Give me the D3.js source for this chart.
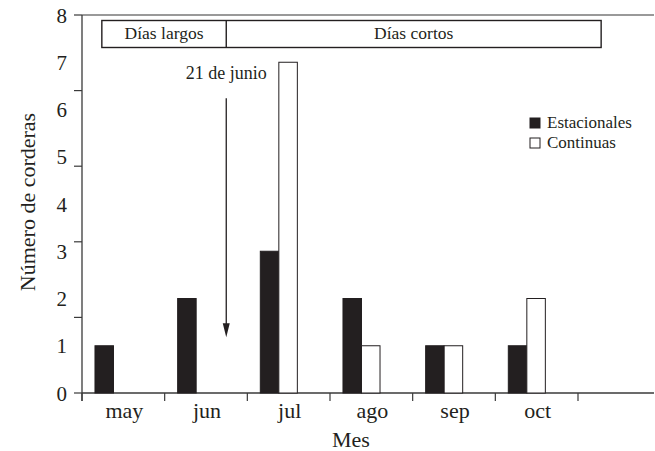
<!DOCTYPE html>
<html><head><meta charset="utf-8">
<script src="https://cdn.jsdelivr.net/npm/d3@7"></script>
<style>body{margin:0;background:#fff}svg{display:block}text{font-family:"Liberation Serif","Times New Roman",serif;fill:#231f20}</style>
</head><body><svg id="c" width="655" height="451"></svg>
<script>
const months = ["may","jun","jul","ago","sep","oct"];
const series = ["Estacionales","Continuas"];
const estacionales = [1,2,3,2,1,1];
const continuas = [0,0,7,1,1,2];
const yLabels = [0,1,2,3,4,5,6,7,8];
const yTickMarks = [0,1.6,3.2,4.8,6.4,8];
const periods = ["Días largos","Días cortos"];
const annotation = "21 de junio";

const svg = d3.select("#c");
const x = d3.scaleBand().domain(months).range([82,578]).padding(0);
const bw = x.bandwidth();
const xi = d3.scaleBand().domain(series).range([bw*0.157, bw*0.605]);
const y = d3.scaleLinear().domain([0,8]).range([393,15]);
const axisColor = "#3a3a3a";

// top line
svg.append("line").attr("x1",82).attr("x2",654).attr("y1",y(8)).attr("y2",y(8)).attr("stroke","#777").attr("stroke-width",1.3);
// bottom axis line
svg.append("line").attr("x1",82).attr("x2",654).attr("y1",y(0)).attr("y2",y(0)).attr("stroke",axisColor).attr("stroke-width",1.3);
// y axis line
svg.append("line").attr("x1",82).attr("x2",82).attr("y1",y(8)).attr("y2",y(0)+8).attr("stroke",axisColor).attr("stroke-width",1.3);
// y tick marks
svg.selectAll(".yt").data(yTickMarks).enter().append("line")
  .attr("x1",74).attr("x2",82).attr("y1",d=>y(d)).attr("y2",d=>y(d)).attr("stroke",axisColor).attr("stroke-width",1.2);
// y labels
svg.selectAll(".yl").data(yLabels).enter().append("text")
  .attr("x",67).attr("y",d=>y(d)).attr("dy","0.36em").attr("text-anchor","end")
  .style("font-size","21px").text(d=>d);
// x ticks at band boundaries
const bounds = months.map(m=>x(m)).concat([x(months[months.length-1])+bw]);
svg.selectAll(".xt").data(bounds).enter().append("line")
  .attr("x1",d=>d).attr("x2",d=>d).attr("y1",y(0)).attr("y2",y(0)+8).attr("stroke",axisColor).attr("stroke-width",1.2);
// x labels
svg.selectAll(".xl").data(months).enter().append("text")
  .attr("x",d=>x(d)+bw/2+1).attr("y",418).attr("text-anchor","middle")
  .style("font-size","22px").text(d=>d);
// axis titles
svg.append("text").attr("x",351).attr("y",447).attr("text-anchor","middle").style("font-size","22px").text("Mes");
svg.append("text").attr("transform","translate(35,202) rotate(-90)").attr("text-anchor","middle").style("font-size","22px").text("Número de corderas");

// bars
const rows = months.map((m,i)=>({m, vals:[estacionales[i],continuas[i]]}));
const g = svg.selectAll(".grp").data(rows).enter().append("g").attr("transform",d=>`translate(${x(d.m)},0)`);
g.selectAll("rect").data(d=>d.vals.map((v,j)=>({s:series[j],v}))).enter().filter(d=>d.v>0).append("rect")
  .attr("x",d=>xi(d.s)).attr("width",xi.bandwidth())
  .attr("y",d=>y(d.v)).attr("height",d=>y(0)-y(d.v))
  .attr("fill",d=>d.s==="Estacionales"?"#231f20":"#fff")
  .attr("stroke","#231f20").attr("stroke-width",1);

// period box
const boxL = x("may")+bw*0.24, boxDiv = x("jun")+bw*0.745, boxR = x("oct")+bw*1.28;
svg.append("rect").attr("x",boxL).attr("y",20.5).attr("width",boxR-boxL).attr("height",27).attr("fill","none").attr("stroke","#231f20").attr("stroke-width",1.4);
svg.append("line").attr("x1",boxDiv).attr("x2",boxDiv).attr("y1",20.5).attr("y2",47.5).attr("stroke","#231f20").attr("stroke-width",1.4);
svg.append("text").attr("x",(boxL+boxDiv)/2).attr("y",39).attr("text-anchor","middle").style("font-size","17.5px").text(periods[0]);
svg.append("text").attr("x",(boxDiv+boxR)/2).attr("y",39).attr("text-anchor","middle").style("font-size","17.5px").text(periods[1]);

// annotation arrow
svg.append("text").attr("x",boxDiv).attr("y",79).attr("text-anchor","middle").style("font-size","18px").text(annotation);
svg.append("line").attr("x1",boxDiv).attr("x2",boxDiv).attr("y1",y(6.24)).attr("y2",y(1.45)).attr("stroke","#231f20").attr("stroke-width",1.3);
const tip = y(1.18);
svg.append("path").attr("d",`M${boxDiv-3.5},${tip-14}L${boxDiv+3.5},${tip-14}L${boxDiv},${tip}Z`).attr("fill","#231f20");

// legend
const leg = svg.selectAll(".lg").data(series).enter().append("g").attr("transform",(d,i)=>`translate(530,${118+i*20})`);
leg.append("rect").attr("width",10).attr("height",10).attr("fill",d=>d==="Estacionales"?"#231f20":"#fff").attr("stroke","#231f20").attr("stroke-width",1);
leg.append("text").attr("x",17).attr("y",9.5).style("font-size","17px").text(d=>d);
</script></body></html>
